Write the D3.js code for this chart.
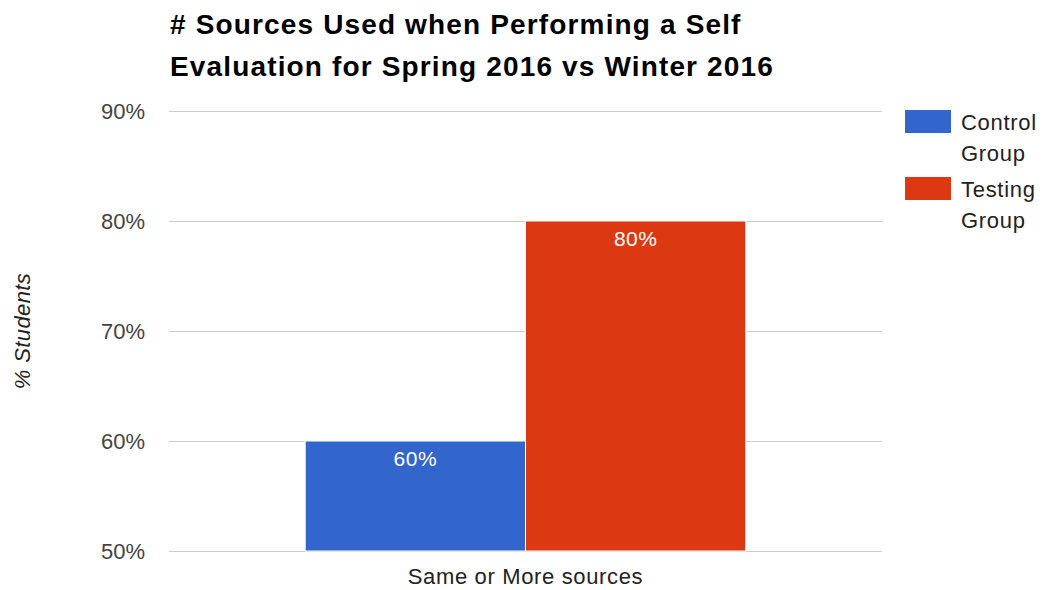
<!DOCTYPE html>
<html>
<meta charset="utf-8">
<head>
  <title>Sources Used</title>
  <script src="https://d3js.org/d3.v7.min.js"></script>
  <style>
    body { margin: 0; background: #fff; }
    text { font-family: "Liberation Sans", Arial, sans-serif; }
  </style>
</head>
<body>
<div id="my_dataviz"></div>
<script>

// data
var categories = ["Same or More sources"];
var series = ["Control Group", "Testing Group"];
var values = [60, 80];
var colors = ["#3366cc", "#dc3912"];
var tickValues = [50, 60, 70, 80, 90];
var titleLines = ["# Sources Used when Performing a Self", "Evaluation for Spring 2016 vs Winter 2016"];
var legendLines = [["Control", "Group"], ["Testing", "Group"]];

var width = 1044, height = 590;
var plot = {left: 169, right: 882, top: 111, bottom: 551};

var svg = d3.select("#my_dataviz").append("svg")
    .attr("width", width)
    .attr("height", height);

// scales
var x0 = d3.scaleBand()
    .domain(categories)
    .range([plot.left, plot.right])
    .paddingInner(0.382)
    .paddingOuter(0.191);

var x1 = d3.scaleBand()
    .domain(series)
    .range([0, x0.bandwidth()]);

var y = d3.scaleLinear()
    .domain([50, 90])
    .range([plot.bottom, plot.top]);

// title
svg.append("g").selectAll("text")
  .data(titleLines)
  .enter().append("text")
    .attr("x", 170)
    .attr("y", function(d, i) { return 34 + i * 42; })
    .style("font-size", "28px")
    .style("font-weight", "bold")
    .style("letter-spacing", "1.15px")
    .style("fill", "#000")
    .text(function(d) { return d; });

// gridlines + tick labels
var yAxis = d3.axisLeft(y)
    .tickValues(tickValues)
    .tickSize(-(plot.right - plot.left))
    .tickPadding(24)
    .tickFormat(function(d) { return d + "%"; });

var gy = svg.append("g")
    .attr("transform", "translate(" + plot.left + ",0)")
    .call(yAxis);
gy.select(".domain").remove();
gy.selectAll(".tick line").attr("stroke", "#cccccc");
gy.selectAll(".tick text")
    .style("font-size", "22px")
    .style("fill", "#444")
    .style("font-family", "'Liberation Sans', Arial, sans-serif");

// y axis title
svg.append("text")
    .attr("transform", "translate(30,331) rotate(-90)")
    .attr("text-anchor", "middle")
    .style("font-size", "22px")
    .style("font-style", "italic")
    .style("letter-spacing", "0.4px")
    .style("fill", "#222")
    .text("% Students");

// bars
var rows = [];
categories.forEach(function(c) {
  series.forEach(function(s, i) {
    rows.push({cat: c, ser: s, value: values[i], color: colors[i]});
  });
});

var bars = svg.append("g").selectAll("g")
  .data(rows)
  .enter().append("g")
    .attr("transform", function(d) { return "translate(" + (x0(d.cat) + x1(d.ser)) + ",0)"; });

bars.append("rect")
    .attr("x", 0)
    .attr("y", function(d) { return y(d.value); })
    .attr("width", x1.bandwidth())
    .attr("height", function(d) { return y(50) - y(d.value); })
    .attr("fill", function(d) { return d.color; })
    .attr("stroke", "#fff")
    .attr("stroke-width", 1);

bars.append("text")
    .attr("x", x1.bandwidth() / 2)
    .attr("y", function(d) { return y(d.value) + 25; })
    .attr("text-anchor", "middle")
    .style("font-size", "21px")
    .style("letter-spacing", "0.5px")
    .style("fill", "#fff")
    .text(function(d) { return d.value + "%"; });

// category label
svg.append("g").selectAll("text")
  .data(categories)
  .enter().append("text")
    .attr("x", function(d) { return x0(d) + x0.bandwidth() / 2; })
    .attr("y", 584)
    .attr("text-anchor", "middle")
    .style("font-size", "22px")
    .style("letter-spacing", "0.65px")
    .style("fill", "#222")
    .text(function(d) { return d; });

// legend
var legend = svg.append("g").selectAll("g")
  .data(series)
  .enter().append("g")
    .attr("transform", function(d, i) { return "translate(905," + (110 + i * 67) + ")"; });

legend.append("rect")
    .attr("width", 46)
    .attr("height", 23)
    .attr("fill", function(d, i) { return colors[i]; });

legend.each(function(d, i) {
  d3.select(this).selectAll("text")
    .data(legendLines[i])
    .enter().append("text")
      .attr("x", 56)
      .attr("y", function(t, j) { return 20 + j * 31; })
      .style("font-size", "22px")
      .style("letter-spacing", "0.7px")
      .style("fill", "#222")
      .text(function(t) { return t; });
});

</script>
</body>
</html>
